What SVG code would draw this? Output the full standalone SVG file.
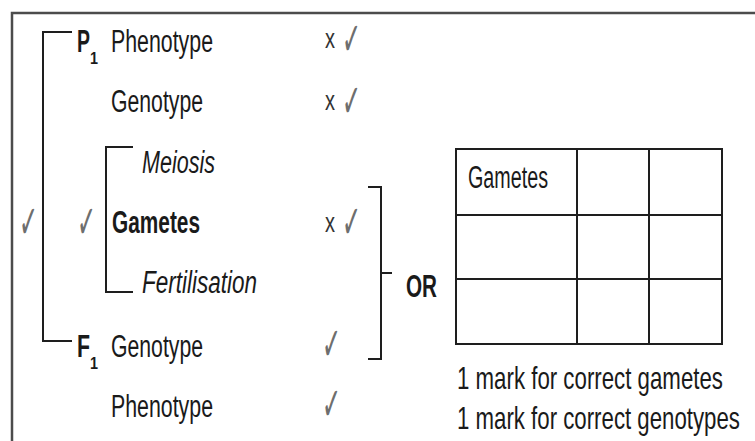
<svg xmlns="http://www.w3.org/2000/svg" width="755" height="441" viewBox="0 0 755 441">
  <style>
    .lbl { font-family: "Liberation Sans", Arial, sans-serif; font-size: 31px; fill: #1a1a1a; }
    .b { font-weight: bold; }
    .it { font-style: italic; }
    .sub { font-family: "Liberation Sans", Arial, sans-serif; font-size: 16px; font-weight: bold; fill: #1a1a1a; }
    .x { font-family: "Liberation Sans", Arial, sans-serif; font-size: 27px; fill: #333; }
    .tick { font-family: "DejaVu Sans", sans-serif; font-size: 46px; fill: #6e6e6e; }
    .br { fill: none; stroke: #1e1e1e; stroke-width: 2; }
    .grid { fill: none; stroke: #1e1e1e; stroke-width: 2; }
    .frame { fill: none; stroke: #4c4c4c; stroke-width: 2.5; }
  </style>

  <!-- outer frame -->
  <path class="frame" d="M12 441 V13 H755"/>

  <!-- brackets -->
  <g id="connectors">
    <path class="br" d="M72 32 H43 V341 H72"/>
    <path class="br" d="M133 147 H106 V292 H133"/>
    <path class="br" d="M368 187 H381 V359 H368 M381 273 H392"/>
  </g>

  <!-- P1 generation -->
  <g id="p1">
    <text class="lbl b" x="77" y="52" textLength="13" lengthAdjust="spacingAndGlyphs">P</text>
    <text class="sub" x="90" y="64" textLength="8" lengthAdjust="spacingAndGlyphs">1</text>
    <text class="lbl" x="111" y="52" textLength="102" lengthAdjust="spacingAndGlyphs">Phenotype</text>
    <text class="x" x="325" y="48" textLength="10" lengthAdjust="spacingAndGlyphs">x</text>
    <text class="tick" x="342" y="55" textLength="19" lengthAdjust="spacingAndGlyphs">✓</text>
    <text class="lbl" x="111" y="112" textLength="92" lengthAdjust="spacingAndGlyphs">Genotype</text>
    <text class="x" x="325" y="110" textLength="10" lengthAdjust="spacingAndGlyphs">x</text>
    <text class="tick" x="342" y="117" textLength="19" lengthAdjust="spacingAndGlyphs">✓</text>
  </g>

  <!-- gametes -->
  <g id="gametes">
    <text class="lbl it" x="142" y="173" textLength="73" lengthAdjust="spacingAndGlyphs">Meiosis</text>
    <text class="tick" x="19" y="238" textLength="19" lengthAdjust="spacingAndGlyphs">✓</text>
    <text class="tick" x="77" y="238" textLength="19" lengthAdjust="spacingAndGlyphs">✓</text>
    <text class="lbl b" x="112" y="233" textLength="88" lengthAdjust="spacingAndGlyphs">Gametes</text>
    <text class="x" x="325" y="232" textLength="10" lengthAdjust="spacingAndGlyphs">x</text>
    <text class="tick" x="342" y="238" textLength="19" lengthAdjust="spacingAndGlyphs">✓</text>
    <text class="lbl it" x="142" y="293" textLength="115" lengthAdjust="spacingAndGlyphs">Fertilisation</text>
  </g>

  <!-- F1 generation -->
  <g id="f1">
    <text class="lbl b" x="77" y="357" textLength="13" lengthAdjust="spacingAndGlyphs">F</text>
    <text class="sub" x="90" y="369" textLength="8" lengthAdjust="spacingAndGlyphs">1</text>
    <text class="lbl" x="111" y="357" textLength="92" lengthAdjust="spacingAndGlyphs">Genotype</text>
    <text class="tick" x="322" y="360" textLength="19" lengthAdjust="spacingAndGlyphs">✓</text>
    <text class="lbl" x="111" y="417" textLength="102" lengthAdjust="spacingAndGlyphs">Phenotype</text>
    <text class="tick" x="322" y="420" textLength="19" lengthAdjust="spacingAndGlyphs">✓</text>
  </g>

  <!-- alternative: Punnett square -->
  <g id="or">
    <text class="lbl b" x="406" y="297" textLength="31" lengthAdjust="spacingAndGlyphs">OR</text>
  </g>

  <g id="punnett">
    <path class="grid" d="M456 149 H722 V344 H456 Z M456 215 H722 M456 279 H722 M577 149 V344 M649 149 V344"/>
    <text class="lbl" x="468" y="188" font-size="23" textLength="80" lengthAdjust="spacingAndGlyphs">Gametes</text>
  </g>

  <!-- marking notes, horizontally condensed -->
  <g id="notes">
    <text class="lbl" transform="translate(457 389) scale(0.72 1)" textLength="369.4" lengthAdjust="spacingAndGlyphs">1 mark for correct gametes</text>
    <text class="lbl" transform="translate(457 429) scale(0.72 1)" textLength="393" lengthAdjust="spacingAndGlyphs">1 mark for correct genotypes</text>
  </g>
</svg>
